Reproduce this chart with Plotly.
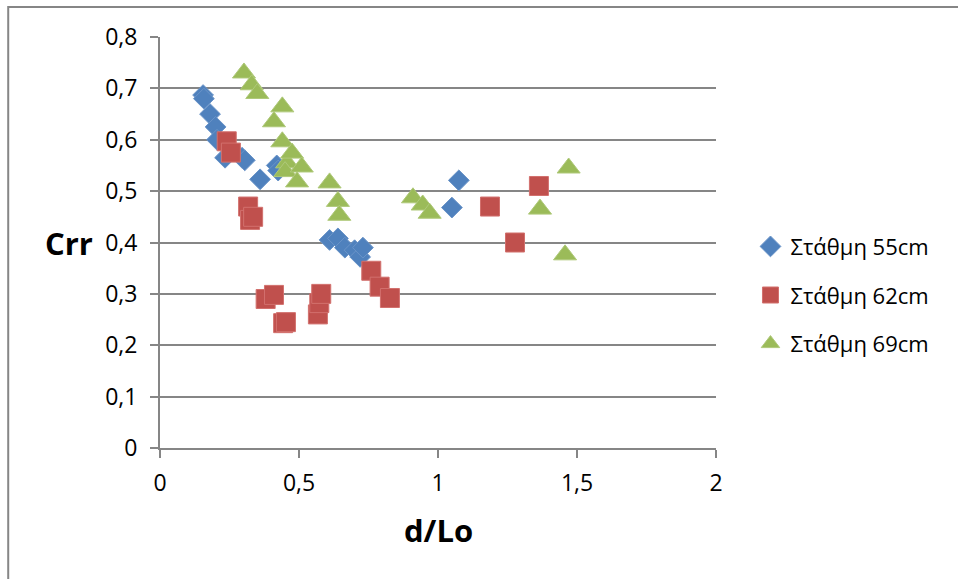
import plotly.graph_objects as go

blue_x = [0.155, 0.158, 0.18, 0.20, 0.205, 0.234, 0.295, 0.305, 0.36, 0.42, 0.425, 0.61, 0.64, 0.665, 0.70, 0.72, 0.73, 1.05, 1.075]
blue_y = [0.687, 0.68, 0.65, 0.625, 0.60, 0.565, 0.565, 0.56, 0.523, 0.55, 0.54, 0.405, 0.408, 0.39, 0.385, 0.372, 0.39, 0.468, 0.521]

red_x = [0.24, 0.255, 0.317, 0.324, 0.335, 0.38, 0.41, 0.443, 0.453, 0.568, 0.573, 0.58, 0.76, 0.79, 0.827, 1.187, 1.277, 1.363]
red_y = [0.597, 0.575, 0.47, 0.444, 0.45, 0.29, 0.298, 0.243, 0.245, 0.26, 0.282, 0.30, 0.345, 0.314, 0.292, 0.47, 0.40, 0.51]

green_x = [0.302, 0.33, 0.35, 0.41, 0.44, 0.44, 0.457, 0.45, 0.475, 0.493, 0.51, 0.61, 0.64, 0.645, 0.91, 0.945, 0.97, 1.367, 1.457, 1.47]
green_y = [0.73, 0.707, 0.69, 0.635, 0.664, 0.596, 0.555, 0.538, 0.574, 0.518, 0.547, 0.516, 0.48, 0.453, 0.487, 0.473, 0.457, 0.465, 0.376, 0.545]

names = ["Στάθμη 55cm", "Στάθμη 62cm", "Στάθμη 69cm"]
x_ticks = [0, 0.5, 1, 1.5, 2]
x_tick_text = ["0", "0,5", "1", "1,5", "2"]
y_ticks = [0, 0.1, 0.2, 0.3, 0.4, 0.5, 0.6, 0.7, 0.8]
y_tick_text = ["0", "0,1", "0,2", "0,3", "0,4", "0,5", "0,6", "0,7", "0,8"]

FONT = "Open Sans, Noto Sans, sans-serif"
GRID = "#868686"

fig = go.Figure()
fig.add_trace(go.Scatter(x=blue_x, y=blue_y, mode="markers", name=names[0], legendgroup="a",
                         marker=dict(symbol="diamond", size=16, color="#4F81BD",
                                     line=dict(width=1, color="#6a94c8"))))
fig.add_trace(go.Scatter(x=red_x, y=red_y, mode="markers", name=names[1], legendgroup="b",
                         marker=dict(symbol="square", size=19, color="#C0504D",
                                     line=dict(width=1, color="#d2706d"))))
fig.add_trace(go.Scatter(x=green_x, y=green_y, mode="markers", name=names[2], legendgroup="c",
                         marker=dict(symbol="triangle-up", size=20, color="#9BBB59",
                                     line=dict(width=1, color="#afc97a"))))

fig.update_layout(
    width=958, height=579,
    margin=dict(l=160, r=242, t=37, b=131),
    paper_bgcolor="white", plot_bgcolor="white",
    font=dict(family=FONT, size=23, color="black"),
    showlegend=True,
    legend=dict(x=1.062, xanchor="left", y=0.372, yanchor="middle", xref="paper",
                font=dict(family=FONT, size=22), tracegroupgap=17,
                itemsizing="trace", bgcolor="rgba(0,0,0,0)"),
    xaxis=dict(range=[0, 2], tickvals=x_ticks, ticktext=x_tick_text, showgrid=False,
               zeroline=False, showline=True, linecolor=GRID, linewidth=2,
               ticks="outside", ticklen=8, tickcolor=GRID, tickwidth=2,
               tickfont=dict(family=FONT, size=23), ticklabelstandoff=5),
    yaxis=dict(range=[0, 0.8], tickvals=y_ticks, ticktext=y_tick_text, showgrid=True,
               gridcolor=GRID, gridwidth=2, zeroline=False, showline=True, linecolor=GRID,
               linewidth=2, ticks="outside", ticklen=8, tickcolor=GRID, tickwidth=2,
               tickfont=dict(family=FONT, size=23), ticklabelstandoff=8),
    annotations=[
        dict(text="<b>Crr</b>", x=-0.21, y=0.4, xref="paper", yref="y", showarrow=False,
             xanchor="left", yanchor="middle", font=dict(family=FONT, size=31)),
        dict(text="<b>d/Lo</b>", x=1.0, y=-0.2, xref="x", yref="paper", showarrow=False,
             xanchor="center", yanchor="middle", font=dict(family=FONT, size=31)),
    ],
    shapes=[dict(type="rect", xref="paper", yref="paper", x0=-0.273, y0=-1, x1=2, y1=1.073,
                 line=dict(color=GRID, width=2), fillcolor="rgba(0,0,0,0)", layer="below")],
)

fig.write_html("out.html")
